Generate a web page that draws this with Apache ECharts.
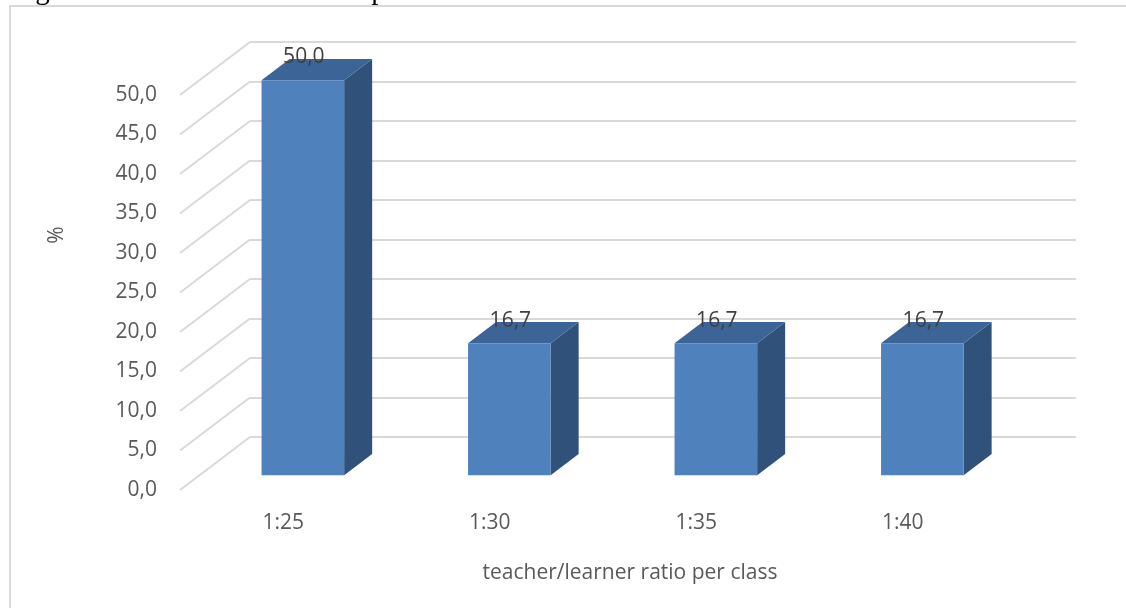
<!DOCTYPE html>
<html lang="en">

<head>
    <meta charset="UTF-8">
    <title>teacher/learner ratio</title>
    <style>
        html, body {
            margin: 0;
            padding: 0;
            background: #fff;
        }

        .main {
            width: 1126px;
            height: 608px;
        }
    </style>
    <script src="https://cdn.jsdelivr.net/npm/echarts/dist/echarts.min.js"></script>
</head>

<body>
    <div class="main"></div>
    <script>
        // data
        var categories = ['1:25', '1:30', '1:35', '1:40'];
        var percents = [50.0, 16.7, 16.7, 16.7];
        var yTicks = [0, 5, 10, 15, 20, 25, 30, 35, 40, 45, 50];

        // depth of the fake 3d box: front plane -> back wall
        var DX = 70, DY = -53;
        var BAR_FRONT = 0.28, BAR_BACK = 0.68;

        var myChart = echarts.init(document.querySelector('.main'));

        function fmt(v) {
            return v.toFixed(1).replace('.', ',');
        }

        var option = {
            animation: false,
            textStyle: { fontFamily: 'Open Sans' },
            title: [{
                text: 'teacher/learner ratio per class',
                left: 625,
                top: 558,
                textAlign: 'center',
                textStyle: { fontFamily: 'Open Sans', fontSize: 21, fontWeight: 'normal', color: '#595959' }
            }],
            graphic: [
                // frame round the chart
                {
                    type: 'rect',
                    shape: { x: 10, y: 6, width: 1130, height: 640 },
                    style: { fill: 'none', stroke: '#d9d9d9', lineWidth: 2 },
                    silent: true
                },
                // caption above, mostly cut off
                {
                    type: 'text',
                    x: 11,
                    y: -9,
                    style: {
                        text: 'Figure 5: Teacher/learner ratio per class',
                        font: '29px "Liberation Serif"',
                        fill: '#000',
                        verticalAlign: 'middle'
                    }
                },
                {
                    type: 'text',
                    x: 57,
                    y: 235,
                    rotation: Math.PI / 2,
                    style: {
                        text: '%',
                        font: '21px "Open Sans"',
                        fill: '#595959',
                        align: 'center',
                        verticalAlign: 'middle'
                    }
                }
            ],
            grid: [
                // back wall
                { left: 250, right: 50, top: 42, bottom: 171 },
                // front plane
                { left: 180, right: 120, top: 95, bottom: 118 }
            ],
            xAxis: [
                {
                    gridIndex: 0, type: 'category', data: categories,
                    axisLine: { show: false }, axisTick: { show: false }, axisLabel: { show: false }
                },
                {
                    gridIndex: 1, type: 'category', data: categories,
                    axisLine: { show: false }, axisTick: { show: false },
                    axisLabel: { margin: 23, fontSize: 21, color: '#595959', fontFamily: 'Open Sans' }
                }
            ],
            yAxis: [
                {
                    gridIndex: 0, type: 'value', min: 0, max: 50, interval: 5,
                    axisLine: { show: false }, axisTick: { show: false }, axisLabel: { show: false },
                    splitLine: { lineStyle: { color: '#d9d9d9', width: 2 } }
                },
                {
                    gridIndex: 1, type: 'value', min: 0, max: 50, interval: 5,
                    axisLine: { show: false }, axisTick: { show: false },
                    splitLine: { show: false },
                    axisLabel: {
                        margin: 23, fontSize: 21, color: '#595959', fontFamily: 'Open Sans',
                        formatter: function (v) { return fmt(v); }
                    }
                }
            ],
            series: [
                {
                    // slanted grid lines from the front plane to the back wall
                    type: 'custom',
                    xAxisIndex: 1,
                    yAxisIndex: 1,
                    clip: false,
                    silent: true,
                    data: yTicks.map(function (v) { return [0, v]; }),
                    renderItem: function (params, api) {
                        var cs = params.coordSys;
                        var y = api.coord([0, api.value(1)])[1];
                        return {
                            type: 'line',
                            shape: { x1: cs.x, y1: y, x2: cs.x + DX, y2: y + DY },
                            style: { stroke: '#d9d9d9', lineWidth: 2 }
                        };
                    }
                },
                {
                    // 3d bars
                    type: 'custom',
                    xAxisIndex: 1,
                    yAxisIndex: 1,
                    clip: false,
                    data: percents.map(function (v, i) { return [i, v]; }),
                    renderItem: function (params, api) {
                        var i = api.value(0), v = api.value(1);
                        var p0 = api.coord([i, 0]);
                        var p1 = api.coord([i, v]);
                        var w = api.size([1, 0])[0] * 0.4;
                        var fx = p0[0] + BAR_FRONT * DX - w / 2;
                        var fb = p0[1] + BAR_FRONT * DY;
                        var ft = p1[1] + BAR_FRONT * DY;
                        var sx = (BAR_BACK - BAR_FRONT) * DX;
                        var sy = (BAR_BACK - BAR_FRONT) * DY;
                        return {
                            type: 'group',
                            children: [
                                {
                                    type: 'polygon',
                                    shape: { points: [[fx + w, ft], [fx + w + sx, ft + sy], [fx + w + sx, fb + sy], [fx + w, fb]] },
                                    style: { fill: '#30527a' }
                                },
                                {
                                    type: 'polygon',
                                    shape: { points: [[fx, ft], [fx + w, ft], [fx + w + sx, ft + sy], [fx + sx, ft + sy]] },
                                    style: { fill: '#3c6496' }
                                },
                                {
                                    type: 'rect',
                                    shape: { x: fx, y: ft, width: w, height: fb - ft },
                                    style: { fill: '#4f81bd' }
                                },
                                {
                                    type: 'text',
                                    x: fx + w / 2 + 1,
                                    y: ft + sy + 9,
                                    style: {
                                        text: fmt(v),
                                        font: '21px "Open Sans"',
                                        fill: '#404040',
                                        align: 'center',
                                        verticalAlign: 'bottom'
                                    }
                                }
                            ]
                        };
                    }
                }
            ]
        };

        myChart.setOption(option);
    </script>
</body>

</html>
